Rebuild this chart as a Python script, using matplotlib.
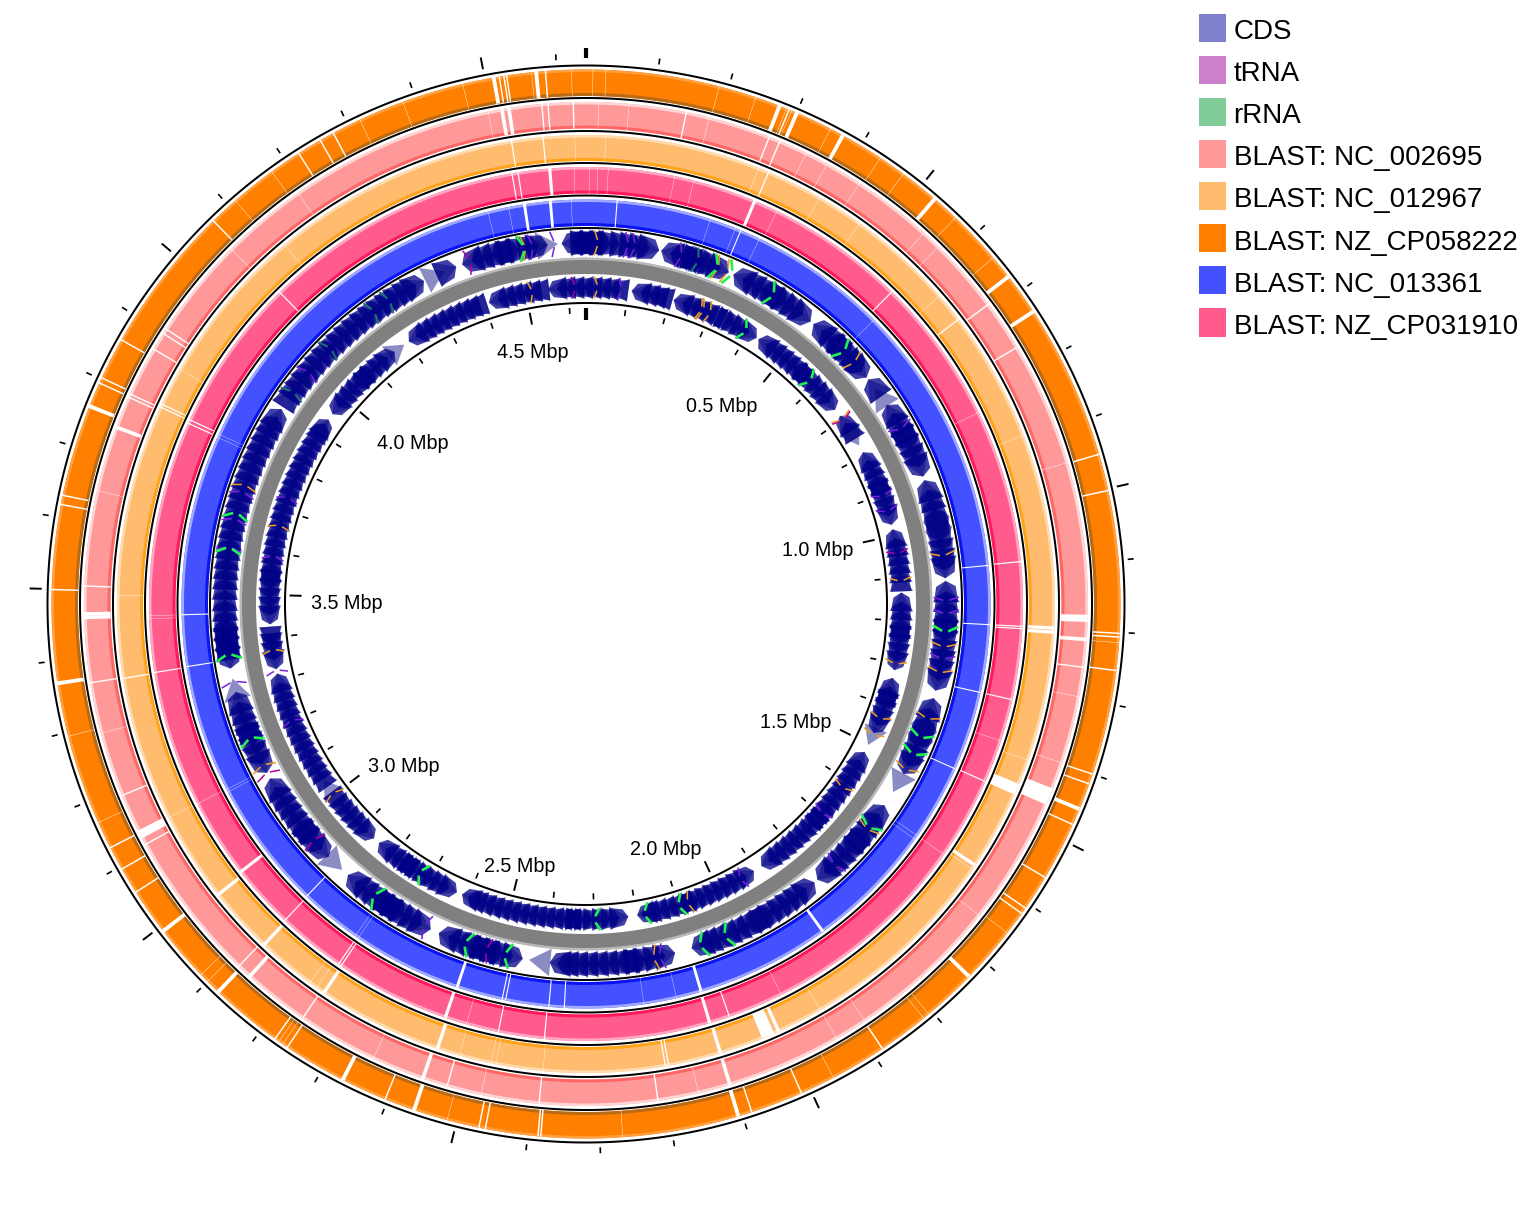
import numpy as np
import matplotlib
matplotlib.use('Agg')
import matplotlib.pyplot as plt
from matplotlib.patches import Patch, Rectangle
from matplotlib.legend_handler import HandlerPatch

plt.rcParams['font.family'] = ['Liberation Sans', 'DejaVu Sans']

# genome
genome_mbp = 4.64
minor_mbp = [0.1, 0.2, 0.3, 0.4, 0.6, 0.7, 0.8, 0.9, 1.1, 1.2, 1.3, 1.4, 1.6, 1.7, 1.8, 1.9, 2.1, 2.2, 2.3, 2.4,
             2.6, 2.7, 2.8, 2.9, 3.1, 3.2, 3.3, 3.4, 3.6, 3.7, 3.8, 3.9, 4.1, 4.2, 4.3, 4.4, 4.6]
major_mbp = [0.5, 1.0, 1.5, 2.0, 2.5, 3.0, 3.5, 4.0, 4.5]
major_labels = ['0.5 Mbp', '1.0 Mbp', '1.5 Mbp', '2.0 Mbp', '2.5 Mbp', '3.0 Mbp', '3.5 Mbp', '4.0 Mbp', '4.5 Mbp']

# BLAST rings, white gaps as clock angles
cp058222_wide = []
cp058222_thick = [21.3, 23.3, 28.8, 40.8, 52.3, 56.9, 112.6, 134.2, 163.4, 198.7, 207, 223.4, 232.2, 261.4, 291.7, 350.1, 354.7]
cp058222_mid = [22.4, 73.8, 77.8, 93.2, 93.6, 97.2, 108.6, 109.7, 114.4, 120.8, 124.7, 125.4, 146.3, 156.2, 161.9, 184.8,
                185.1, 190.8, 191.5, 202, 213.9, 215.5, 237.3, 240.2, 242.8, 271.5, 280.7, 281.7, 294.4, 295, 299.6,
                315.8, 327.5, 330.2, 331.8, 350.7, 351.2, 351.5, 355.7]
cp058222_thin = [0.8, 2.2, 14.5, 18.6, 22.1, 22.7, 27.3, 33.5, 36.5, 43.8, 49.7, 94.2, 128, 140.1, 140.8, 152.4, 176, 195,
                 214.5, 215, 225, 226, 245.8, 255.6, 319, 324, 335, 340, 346.7, 354.2, 358.5]

nc002695_wide = [(112.6, 2.0), (242.6, 1.0)]
nc002695_thick = [91.5, 91.9, 94.1, 163.3, 198.9, 222, 268.4, 268.8, 290.6, 350.4, 351.2]
nc002695_mid = [11.6, 21.5, 22.8, 53.4, 59.3, 97.3, 171.7, 185.3, 196, 214.3, 223.7, 241.3, 247.5, 260.9, 272, 294.3, 294.7,
                300.5, 302.6, 303.2, 355, 355.7, 358.6]
nc002695_thin = [1.5, 5, 14.3, 26.1, 28.8, 33.1, 42.4, 44.7, 73.7, 100.7, 108.5, 128.4, 146.2, 150, 167, 192, 205, 255,
                 283, 315, 325, 348.8]

nc012967_wide = [(113.3, 1.4), (157.1, 1.6)]
nc012967_thick = [93, 93.5, 123.9, 155.7, 163.3, 198.4, 213.9, 223.3, 231.6]
nc012967_mid = [23, 52.7, 113.9, 169.8, 170.2, 260.8, 294.8, 295.2, 350.9, 354.8]
nc012967_thin = [2.5, 21.7, 30, 35.8, 49, 69, 109.5, 124.5, 150, 185.2, 191, 191.6, 195.6, 215, 216, 242.8, 271, 300, 320, 358.7]

cp031910_wide = []
cp031910_thick = [22.8, 163.5, 198.7, 232.1, 355.3]
cp031910_mid = [44.5, 84.5, 93, 93.3, 102.7, 114, 160.8, 185.4, 191.5, 214, 214.4, 223.5, 260.9, 294.4, 294.9, 315.5, 350.3, 351.1]
cp031910_thin = [0.5, 1.6, 3, 11.8, 14.4, 26, 64.1, 108.3, 125, 153.4, 195.8, 242.7, 268, 268.4, 358.5]

nc013361_wide = []
nc013361_thick = [144.1, 163.4, 198.5, 351.3, 355]
nc013361_mid = [4.5, 22.6, 84.6, 93, 102.7, 114.1, 183, 185.2, 191.4, 191.9, 223.6, 261, 268.4]
nc013361_thin = [18, 21.8, 25.5, 45.5, 125, 125.6, 167, 171.7, 214.2, 214.7, 242.2, 242.6, 294.3, 294.8, 346, 349, 358]

# CDS arrow tips (clock angle), split by pointing direction
fwd_cw = [1.0, 2.5, 4.0, 5.4, 7.3, 8.8, 10.3, 11.8, 19.0, 20.5, 22.0, 23.4, 33.8, 35.4, 37.0, 38.6, 47.0, 48.5, 50.0, 51.2,
          64.6, 66.2, 67.8, 69.4, 80.0, 81.6, 83.2, 84.8, 86.0, 96.0, 97.6, 99.2, 100.8, 102.4, 104.0, 113.6, 115.2, 116.8,
          118.2, 133.6, 135.2, 136.8, 138.4, 140.0, 153.6, 155.2, 156.8, 158.4, 160.0, 161.6, 162.9, 175.0, 176.6,
          178.2, 179.8, 181.4, 183.0, 184.5, 185.7, 197.6, 199.2, 200.8, 202.4, 204.0, 214.8, 216.4, 218.0, 219.6,
          221.2, 233.0, 234.6, 236.2, 237.8, 239.4, 241.0, 251.0, 252.6, 254.2, 255.8, 264.4, 266.0, 267.6, 269.0,
          270.6, 272.2, 274.0, 275.6, 277.2, 278.8, 280.4, 282.0, 283.6, 285.2, 286.8, 288.4, 290.0, 291.6, 293.2, 294.8,
          296.4, 298.0, 299.6, 301.2, 302.6, 306.4, 308.0, 309.6, 311.2, 312.8, 314.4, 316.0, 317.6, 319.2, 320.8, 322.4,
          324.0, 325.6, 327.2, 328.8, 330.4, 332.0, 333.4, 339.0, 349.3, 351.0, 352.6, 354.0]
fwd_ccw = [12.1, 13.6, 15.1, 24.2, 25.8, 27.4, 29.0, 39.2, 40.8, 42.4, 51.6, 56.6, 58.2, 59.8, 70.0, 71.6, 73.2, 74.8,
           86.4, 88.0, 89.6, 91.2, 105.2, 106.8, 108.4, 124.0, 125.6, 127.2, 128.8, 140.6, 142.2, 143.8, 145.4, 147.0, 148.6,
           165.6, 167.2, 168.8, 170.4, 190.0, 191.6, 193.2, 194.8, 205.4, 207.0, 208.6, 210.2, 211.8, 225.4, 227.0,
           228.6, 242.0, 243.6, 245.2, 246.8, 259.6, 261.2, 262.8, 340.0, 341.6, 343.2, 344.8, 356.2, 357.8, 359.4]
fwd_pale_cw = [121.5, 189.0, 258.0, 337.0, 355.6]
fwd_pale_ccw = [53.4, 222.4]
rev_cw = [28.0, 29.6, 31.2, 32.8, 45.8, 47.4, 49.0, 50.6, 52.2, 70.8, 72.4, 74.0, 75.6, 97.4, 99.0, 100.6, 102.2, 109.6,
          111.2, 112.8, 114.2, 135.0, 136.6, 138.2, 139.8, 141.4, 143.0, 144.6, 146.2, 163.4, 165.0, 166.6, 168.2,
          169.8, 170.6, 184.2, 185.8, 187.4, 189.0, 190.6, 192.2, 193.8, 195.4, 197.0, 198.6, 200.2, 201.8, 203.0, 216.0,
          217.6, 219.2, 220.8, 238.0, 239.6, 241.2, 242.8, 244.4, 246.0, 247.6, 249.2, 250.8, 252.4, 254.0, 255.6,
          257.2, 277.4, 279.0, 280.6, 282.2, 283.8, 285.4, 287.0, 288.6, 290.2, 291.8, 293.4, 295.0, 296.6, 298.2, 299.8,
          301.4, 303.0, 304.6, 305.6, 318.0, 319.6, 321.2, 322.8]
rev_ccw = [353.2, 354.8, 356.4, 358.0, 359.6, 1.2, 2.8, 4.4, 342.2, 343.8, 345.4, 347.0, 348.6, 350.0, 8.4, 10.0, 11.6, 12.6,
           16.2, 17.8, 19.4, 21.0, 22.6, 33.2, 34.8, 36.4, 38.0, 39.6, 41.2, 53.6, 55.2, 61.4, 63.0, 64.6, 66.2, 76.4, 78.0,
           79.6, 81.2, 82.8, 84.4, 88.0, 89.6, 91.2, 92.8, 103.6, 105.2, 118.0, 119.6, 121.2, 122.8, 124.4, 126.0, 127.6,
           129.2, 130.8, 147.8, 149.4, 151.0, 152.6, 154.2, 155.8, 157.4, 159.0, 172.2, 173.8, 175.4, 177.0, 178.6, 180.2,
           204.0, 205.6, 207.2, 208.8, 210.4, 212.0, 222.0, 223.6, 225.2, 226.8, 228.4, 230.0, 258.0, 259.6, 261.2, 262.4,
           266.2, 267.8, 269.4, 271.0, 272.6, 306.8, 308.4, 310.0, 311.6, 313.2, 326.0, 327.6, 329.2, 330.8, 332.4, 334.0,
           335.6, 337.2, 338.4]
rev_pale_cw = [60.0, 116.6, 236.0, 325.0]

# small features on the CDS rings
fwd_orange = [1.4, 21, 22.6, 47.5, 81.8, 96.3, 100.4, 108, 116.8, 128.1, 168.5, 242.8, 288.6, 349.8]
fwd_purple = [6.2, 7.3, 14.8, 60.4, 89, 91, 98.2, 135.8, 167.5, 206, 256.9, 278.4, 283, 287.4, 309.3, 351, 354.5]
fwd_magenta = [195.4, 228.4, 241.4, 340.8]
fwd_green = [20.5, 23, 30.4, 44.8, 93.6, 110.9, 113.8, 127.4, 156.3, 160.5, 192, 198.6, 215, 247.2, 261, 278, 283.6, 349.3]
fwd_teal = [17.6, 305.3, 314.4, 323.5, 326.5]
rev_orange = [1.6, 20.9, 21.3, 22.6, 53.7, 85.3, 100.4, 110.7, 114, 125, 160.5, 232.5, 261, 283.7, 349.7]
rev_purple = [5.9, 69.5, 72.4, 131, 150, 247.7, 257.2, 278, 289]
rev_magenta = [54, 80.3, 357.5]
rev_green = [29.5, 44.3, 161.9, 168.3, 177.4, 210.7]

# legend
legend_names = ['CDS', 'tRNA', 'rRNA', 'BLAST: NC_002695', 'BLAST: NC_012967', 'BLAST: NZ_CP058222', 'BLAST: NC_013361', 'BLAST: NZ_CP031910']
legend_colors = ['#8080cc', '#cc80cc', '#80cc99', '#ff9999', '#ffbb6e', '#ff8000', '#4351ff', '#ff5c8d']


W, H = 1534, 1212
cx, cy, R = 585.5, 603.5, 570.0

fig = plt.figure(figsize=(W / 100, H / 100), dpi=100)
ax = fig.add_axes([(cx - R) / W, (H - cy - R) / H, 2 * R / W, 2 * R / H], projection='polar')
ax.set_theta_zero_location('N')
ax.set_theta_direction(-1)
ax.set_ylim(0, R)
ax.set_axis_off()

full = np.linspace(0, 2 * np.pi, 721)


def deg(a):
    return np.radians(np.asarray(a, dtype=float))


def mbp(x):
    return np.asarray(x, dtype=float) / genome_mbp * 2 * np.pi


def blast_ring(r0, r1, color, dark, light, wide, thick, mid, thin):
    ax.fill_between(full, r0, r1, color=color, linewidth=0, zorder=2)
    ax.fill_between(full, r0, r0 + 3, color=dark, linewidth=0, zorder=2)
    ax.fill_between(full, r1 - 2.5, r1, color=light, linewidth=0, zorder=2)
    gaps = [(a, 0.045) for a in thin] + [(a, 0.16) for a in mid] + [(a, 0.42) for a in thick] + list(wide)
    for a, w in gaps:
        ax.bar(deg(a), r1 - r0 + 1, width=deg(w), bottom=r0 - 0.5, color='white', linewidth=0, zorder=3)


blast_ring(508, 534.5, '#ff8000', '#b86a14', '#ffa040', cp058222_wide, cp058222_thick, cp058222_mid, cp058222_thin)
blast_ring(475.5, 502, '#ff9999', '#ff6666', '#ffd6d6', nc002695_wide, nc002695_thick, nc002695_mid, nc002695_thin)
blast_ring(443, 469, '#ffbb6e', '#ffa31a', '#ffdcb0', nc012967_wide, nc012967_thick, nc012967_mid, nc012967_thin)
blast_ring(410.5, 437, '#ff5c8d', '#ff1a5c', '#ffa8c4', cp031910_wide, cp031910_thick, cp031910_mid, cp031910_thin)
blast_ring(378, 404.5, '#4351ff', '#0a14f0', '#a0a8ff', nc013361_wide, nc013361_thick, nc013361_mid, nc013361_thin)

# gray backbone
ax.fill_between(full, 330, 346, color='#808080', linewidth=0, zorder=2)
ax.fill_between(full, 344, 346.5, color='#b8b8b8', linewidth=0, zorder=2)


def arrows(tips, sign, r0, r1, core=True):
    rm = (r0 + r1) / 2
    head = 3.4
    for t in tips:
        th = deg([t - sign * head, t, t - sign * head])
        ax.fill(th, [r1, rm, r0], color='#000080', alpha=0.45, linewidth=0, zorder=4)
        if core:
            # the many short genes fill most of the track, only the rim stays saw-toothed
            th = deg([t - sign * head, t - sign * 0.9, t, t - sign * 0.9, t - sign * head])
            ax.fill(th, [r1 - 1.5, r1 - 4, rm, r0 + 4, r0 + 1.5], color='#000088', alpha=0.75, linewidth=0, zorder=4)


arrows(fwd_cw, 1, 347, 374.5)
arrows(fwd_ccw, -1, 347, 374.5)
arrows(fwd_pale_cw, 1, 347, 374.5, core=False)
arrows(fwd_pale_ccw, -1, 347, 374.5, core=False)
arrows(rev_cw, 1, 304, 328)
arrows(rev_ccw, -1, 304, 328)
arrows(rev_pale_cw, 1, 304, 328, core=False)


def features(angles, color, r0, r1, lw, slant):
    rm = (r0 + r1) / 2
    for a in angles:
        ax.plot(deg([a, a + slant]), [r1 - 1, rm + 3], color=color, lw=lw, solid_capstyle='butt', zorder=5)
        ax.plot(deg([a, a + slant]), [r0 + 1, rm - 3], color=color, lw=lw, solid_capstyle='butt', zorder=5)


features(fwd_orange, '#f0a020', 347, 374.5, 1.1, 0.5)
features(fwd_purple, '#7a20e0', 347, 374.5, 1.1, 0.5)
features(fwd_magenta, '#b000a0', 347, 374.5, 1.1, 0.5)
features(fwd_green, '#20f050', 347, 374.5, 1.9, 0.8)
features(fwd_teal, '#207070', 347, 374.5, 1.5, 0.5)
features(rev_orange, '#f0a020', 304, 328, 1.1, 0.5)
features(rev_purple, '#7a20e0', 304, 328, 1.1, 0.5)
features(rev_magenta, '#b000a0', 304, 328, 1.1, 0.5)
features(rev_green, '#20f050', 304, 328, 1.9, 0.8)

# black circles
for r in [538.5, 506, 473, 441, 408.5, 376, 301]:
    ax.fill_between(full, r - 1, r + 1, color='black', linewidth=0, zorder=6)

# ticks
ax.vlines(mbp(minor_mbp), 544, 550, color='black', lw=1.2, zorder=6)
ax.vlines(mbp(major_mbp), 544, 556, color='black', lw=1.4, zorder=6)
ax.vlines(mbp(minor_mbp), 290, 296, color='black', lw=1.2, zorder=6)
ax.vlines(mbp(major_mbp), 284, 296, color='black', lw=1.4, zorder=6)
ax.vlines([0], 546, 556, color='black', lw=3.0, zorder=6)
ax.vlines([0], 284, 296, color='black', lw=3.0, zorder=6)

# labels, placed off the inner end of each tick
label_dx = [-6.5, -9, -9, -3, 3, 9, 9.4, 8, 1]
label_dy = [-24.5, -8.5, 7.5, 12, 12.5, 8.5, -8, -24, -27.5]
label_ha = ['right', 'right', 'right', 'right', 'center', 'left', 'left', 'left', 'center']
for m, s, dx, dy, ha in zip(major_mbp, major_labels, label_dx, label_dy, label_ha):
    ax.annotate(s, xy=(mbp(m), 284), xytext=(dx, dy), textcoords='offset pixels', ha=ha, va='center',
                fontsize=14.2, zorder=7)


def swatch(legend, orig_handle, xdescent, ydescent, width, height, fontsize):
    return Rectangle((-xdescent, -ydescent + 0.1), width, 20.2)


handles = [Patch(facecolor=c, edgecolor='none', label=n) for c, n in zip(legend_colors, legend_names)]
fig.legend(handles=handles, loc='upper left', bbox_to_anchor=(1193 / W, 1 - 11.5 / H), frameon=False, fontsize=20,
           handlelength=1.0, handleheight=1.0, handletextpad=0.26, labelspacing=0.51, borderpad=0.2, borderaxespad=0,
           handler_map={Patch: HandlerPatch(patch_func=swatch)})

fig.savefig('out.png', dpi=100)
